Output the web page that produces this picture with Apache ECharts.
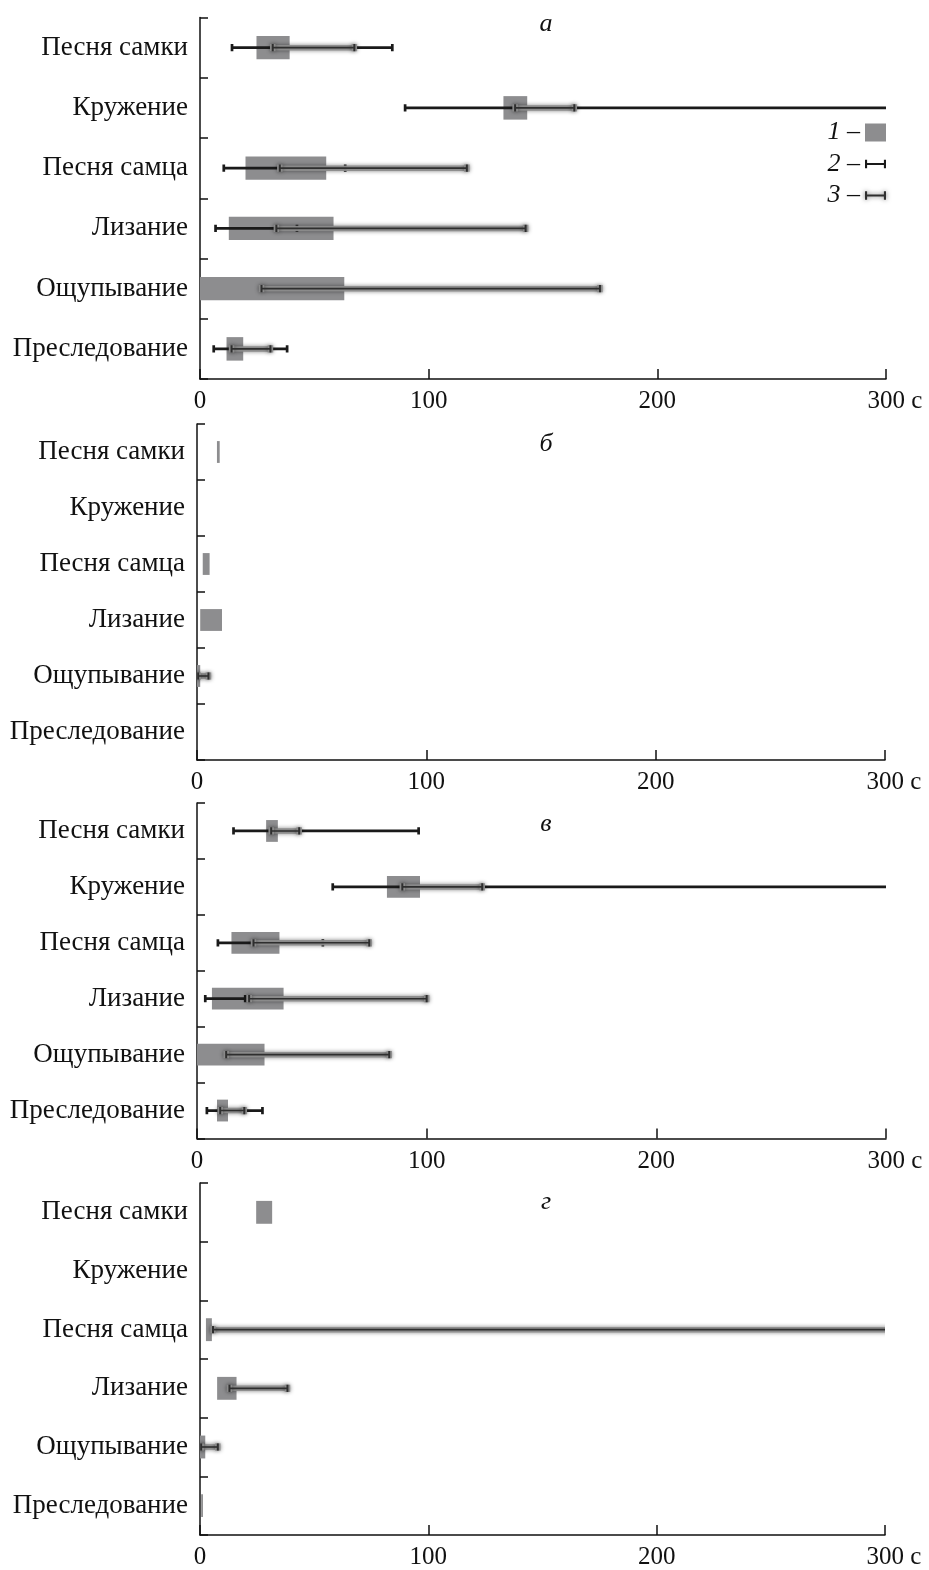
<!DOCTYPE html>
<html><head><meta charset="utf-8">
<script src="https://cdn.jsdelivr.net/npm/echarts@6/dist/echarts.min.js"></script>
<style>html,body{margin:0;padding:0;background:#fff}#c{width:929px;height:1570px}</style>
</head><body><div id="c"></div>
<script>
const categories = ['Песня самки','Кружение','Песня самца','Лизание','Ощупывание','Преследование'];
const xTicks = [0, 100, 200, 300];
const panelLetters = ['а','б','в','г'];
const legendNames = ['1','2','3'];

// Panel а
const barStartA = [24.7, 132.7, 19.9, 12.6, 0, 11.6];
const barEndA   = [39.2, 143.1, 55.2, 58.4, 63.1, 18.9];
const blackLoA  = [14.0, 89.7, 10.4, 6.8, null, 6.0];
const blackHiA  = [84.1, 305, 63.5, 42.4, null, 38.1];
const grayLoA   = [31.8, 137.8, 34.9, 33.4, 26.9, 13.8];
const grayHiA   = [67.5, 163.7, 116.7, 142.4, 174.9, 30.8];

// Panel б
const barStartB = [8.7, null, 2.5, 1.4, 0, null];
const barEndB   = [9.9, null, 5.5, 10.9, 1.4, null];
const blackLoB  = [null, null, null, null, null, null];
const blackHiB  = [null, null, null, null, null, null];
const grayLoB   = [null, null, null, null, 0.5, null];
const grayHiB   = [null, null, null, null, 5.0, null];

// Panel в
const barStartC = [30.1, 82.7, 15.0, 6.5, 0, 8.7];
const barEndC   = [35.2, 97.1, 35.9, 37.7, 29.4, 13.5];
const blackLoC  = [15.9, 59.1, 9.1, 3.6, null, 4.3];
const blackHiC  = [96.5, 305, 54.8, 21.0, null, 28.5];
const grayLoC   = [32.3, 89.4, 24.6, 22.7, 12.7, 10.1];
const grayHiC   = [44.5, 124.2, 75.0, 100.0, 83.7, 20.6];

// Panel г
const barStartD = [24.6, null, 2.6, 7.5, 0, 0.5];
const barEndD   = [31.6, null, 5.2, 16.0, 2.3, 1.3];
const blackLoD  = [null, null, null, null, null, null];
const blackHiD  = [null, null, null, null, null, null];
const grayLoD   = [null, null, 5.7, 12.9, 0.5, null];
const grayHiD   = [null, null, 305, 38.3, 7.8, null];

const panels = [
  {bs: barStartA, be: barEndA, bl: blackLoA, bh: blackHiA, gl: grayLoA, gh: grayHiA},
  {bs: barStartB, be: barEndB, bl: blackLoB, bh: blackHiB, gl: grayLoB, gh: grayHiB},
  {bs: barStartC, be: barEndC, bl: blackLoC, bh: blackHiC, gl: grayLoC, gh: grayHiC},
  {bs: barStartD, be: barEndD, bl: blackLoD, bh: blackHiD, gl: grayLoD, gh: grayHiD}
];

const gridLayout = [
  {left: 200, right: 43, top: 17.5, height: 361.5},
  {left: 197, right: 44, top: 424, height: 336},
  {left: 197, right: 43, top: 803, height: 335.5},
  {left: 200, right: 44, top: 1183, height: 355}
];
const letterTop = [6, 426, 806, 1184];

const FONT = '"Liberation Serif", "DejaVu Serif", serif';
const BAR_COLOR = '#8d8d8f';

function errRender(kind) {
  return function (params, api) {
    const lo = api.value(0), hi = api.value(1), c = api.value(2);
    const p1 = api.coord([lo, c]);
    const p2 = api.coord([hi, c]);
    const y = p1[1];
    const h = 3.6;
    if (kind === 'black') {
      const st = {stroke: '#1a1a1a', lineWidth: 2.7};
      return {type: 'group', children: [
        {type: 'line', shape: {x1: p1[0], y1: y, x2: p2[0], y2: y}, style: st},
        {type: 'line', shape: {x1: p1[0], y1: y - h, x2: p1[0], y2: y + h}, style: st},
        {type: 'line', shape: {x1: p2[0], y1: y - h, x2: p2[0], y2: y + h}, style: st}
      ]};
    }
    const glow = {stroke: 'rgba(140,140,140,0.95)', lineWidth: 5.5, shadowBlur: 4, shadowColor: 'rgba(0,0,0,0.5)'};
    const core = {stroke: '#2e2e2e', lineWidth: 1.6};
    const coreCap = {stroke: '#2e2e2e', lineWidth: 2};
    return {type: 'group', children: [
      {type: 'line', shape: {x1: p1[0], y1: y, x2: p2[0], y2: y}, style: glow},
      {type: 'line', shape: {x1: p1[0], y1: y - h, x2: p1[0], y2: y + h}, style: glow},
      {type: 'line', shape: {x1: p2[0], y1: y - h, x2: p2[0], y2: y + h}, style: glow},
      {type: 'line', shape: {x1: p1[0], y1: y, x2: p2[0], y2: y}, style: core},
      {type: 'line', shape: {x1: p1[0], y1: y - h, x2: p1[0], y2: y + h}, style: coreCap},
      {type: 'line', shape: {x1: p2[0], y1: y - h, x2: p2[0], y2: y + h}, style: coreCap}
    ]};
  };
}

function errData(lo, hi) {
  const out = [];
  lo.forEach((v, i) => { if (v != null && hi[i] != null) out.push([v, hi[i], i]); });
  return out;
}

const grids = [], xAxes = [], yAxes = [], series = [], titles = [];
panels.forEach((p, i) => {
  grids.push(Object.assign({containLabel: false}, gridLayout[i]));
  xAxes.push({
    type: 'value', gridIndex: i, min: xTicks[0], max: xTicks[xTicks.length - 1], interval: 100,
    axisLine: {show: true, lineStyle: {color: '#111', width: 1.5}},
    axisTick: {show: true, inside: true, length: 10, lineStyle: {color: '#111', width: 1.5}},
    splitLine: {show: false},
    axisLabel: {
      fontFamily: FONT, fontSize: 25, color: '#111', margin: 10,
      formatter: v => v === 300 ? '{p|}300 с' : String(v),
      rich: {p: {width: 18}}
    }
  });
  yAxes.push({
    type: 'category', gridIndex: i, data: categories, inverse: true,
    axisLine: {show: true, lineStyle: {color: '#111', width: 1.5}},
    axisTick: {show: true, inside: true, length: 8, interval: 0, lineStyle: {color: '#111', width: 1.5}},
    axisLabel: {fontFamily: FONT, fontSize: 27, color: '#111', margin: 12, interval: 0}
  });
  series.push({
    type: 'bar', name: 'base', xAxisIndex: i, yAxisIndex: i, stack: 's' + i, barWidth: '39%',
    silent: true, itemStyle: {color: 'rgba(0,0,0,0)'}, data: p.bs.slice()
  });
  series.push({
    type: 'bar', name: '1', xAxisIndex: i, yAxisIndex: i, stack: 's' + i, barWidth: '39%',
    itemStyle: {color: BAR_COLOR},
    data: p.bs.map((s, k) => (s == null || p.be[k] == null) ? null : +(p.be[k] - s).toFixed(2))
  });
  series.push({
    type: 'custom', name: '2', xAxisIndex: i, yAxisIndex: i, clip: true, z: 3,
    itemStyle: {color: '#1a1a1a'},
    encode: {x: [0, 1], y: 2}, renderItem: errRender('black'), data: errData(p.bl, p.bh)
  });
  series.push({
    type: 'custom', name: '3', xAxisIndex: i, yAxisIndex: i, clip: true, z: 4,
    itemStyle: {color: '#2e2e2e'},
    encode: {x: [0, 1], y: 2}, renderItem: errRender('gray'), data: errData(p.gl, p.gh)
  });
  titles.push({
    text: panelLetters[i], left: 541, top: letterTop[i], textAlign: 'center',
    textStyle: {fontFamily: FONT, fontStyle: 'italic', fontWeight: 'normal', fontSize: 26, color: '#111'}
  });
});

const errIcon = 'path://M0,0H2V3H18V0H20V8H18V5H2V8H0Z';

const chart = echarts.init(document.getElementById('c'), null, {renderer: 'canvas'});
chart.setOption({
  animation: false,
  backgroundColor: '#fff',
  title: titles,
  legend: {
    orient: 'vertical', right: 43, top: 119, align: 'right', padding: 0,
    itemWidth: 21, itemHeight: 18, itemGap: 4.5, symbolKeepAspect: true,
    selectedMode: false,
    formatter: n => n + ' –',
    textStyle: {fontFamily: FONT, fontStyle: 'italic', fontSize: 26, color: '#111', lineHeight: 27},
    data: [
      {name: legendNames[0], icon: 'rect', itemStyle: {color: BAR_COLOR}},
      {name: legendNames[1], icon: errIcon, itemStyle: {color: '#1a1a1a'}},
      {name: legendNames[2], icon: errIcon, itemStyle: {color: '#2e2e2e', shadowBlur: 5, shadowColor: 'rgba(0,0,0,0.6)'}}
    ]
  },
  grid: grids, xAxis: xAxes, yAxis: yAxes, series: series
});
</script></body></html>
